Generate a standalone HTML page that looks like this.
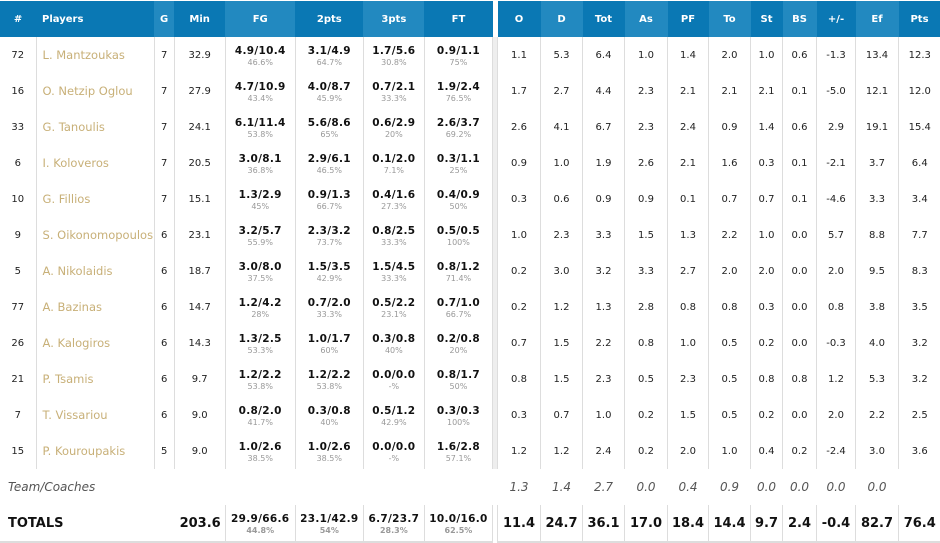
<!DOCTYPE html>
<html><head><meta charset="utf-8"><style>
body{margin:0;width:940px;height:543px;background:#fff;overflow:hidden;font-family:"DejaVu Sans","Liberation Sans",sans-serif;position:relative}
table{border-collapse:collapse;table-layout:fixed;position:absolute;top:1px}
td,th{padding:0;text-align:center;font-size:10px;color:#222;height:36px;border-left:1px solid #ddd;border-right:1px solid #ddd;white-space:nowrap;overflow:hidden}
th{background:#0a78b4;color:#fff;font-weight:bold;font-size:10px;height:36px;border:none}
th.l{background:#2289c0}
td.n{color:#c8b078;font-size:11.5px;text-align:left;padding-left:6px}
th.n{text-align:left;padding-left:6px}
td b{display:block;font-size:10.5px;color:#111;margin-top:1px;letter-spacing:.3px}
td i{display:block;font-style:normal;font-size:8px;color:#999;margin-top:1px}
#L{left:0;width:493px}
#R{left:497px;width:443px}
#L td:first-child{border-left:none}
#R td:last-child{border-right:none}
#gap{position:absolute;left:493px;top:37px;width:4px;height:432px;background:#eee}
tr.tc td{border:none;font-style:italic;font-size:12px;color:#555}
tr.tot td{font-weight:bold;font-size:13px;color:#111;border-bottom:2px solid #ddd}
tr.tot td i{font-weight:bold}
</style></head><body>
<div id="gap"></div>
<table id="L">
<colgroup><col style="width:36px"><col style="width:118px"><col style="width:20px"><col style="width:51px"><col style="width:70px"><col style="width:68px"><col style="width:61px"><col style="width:68px"></colgroup>
<tr><th>#</th><th class="n">Players</th><th class="l">G</th><th>Min</th><th class="l">FG</th><th>2pts</th><th class="l">3pts</th><th>FT</th></tr>
<tr><td>72</td><td class="n">L. Mantzoukas</td><td>7</td><td>32.9</td><td><b>4.9/10.4</b><i>46.6%</i></td><td><b>3.1/4.9</b><i>64.7%</i></td><td><b>1.7/5.6</b><i>30.8%</i></td><td><b>0.9/1.1</b><i>75%</i></td></tr>
<tr><td>16</td><td class="n">O. Netzip Oglou</td><td>7</td><td>27.9</td><td><b>4.7/10.9</b><i>43.4%</i></td><td><b>4.0/8.7</b><i>45.9%</i></td><td><b>0.7/2.1</b><i>33.3%</i></td><td><b>1.9/2.4</b><i>76.5%</i></td></tr>
<tr><td>33</td><td class="n">G. Tanoulis</td><td>7</td><td>24.1</td><td><b>6.1/11.4</b><i>53.8%</i></td><td><b>5.6/8.6</b><i>65%</i></td><td><b>0.6/2.9</b><i>20%</i></td><td><b>2.6/3.7</b><i>69.2%</i></td></tr>
<tr><td>6</td><td class="n">I. Koloveros</td><td>7</td><td>20.5</td><td><b>3.0/8.1</b><i>36.8%</i></td><td><b>2.9/6.1</b><i>46.5%</i></td><td><b>0.1/2.0</b><i>7.1%</i></td><td><b>0.3/1.1</b><i>25%</i></td></tr>
<tr><td>10</td><td class="n">G. Fillios</td><td>7</td><td>15.1</td><td><b>1.3/2.9</b><i>45%</i></td><td><b>0.9/1.3</b><i>66.7%</i></td><td><b>0.4/1.6</b><i>27.3%</i></td><td><b>0.4/0.9</b><i>50%</i></td></tr>
<tr><td>9</td><td class="n">S. Oikonomopoulos</td><td>6</td><td>23.1</td><td><b>3.2/5.7</b><i>55.9%</i></td><td><b>2.3/3.2</b><i>73.7%</i></td><td><b>0.8/2.5</b><i>33.3%</i></td><td><b>0.5/0.5</b><i>100%</i></td></tr>
<tr><td>5</td><td class="n">A. Nikolaidis</td><td>6</td><td>18.7</td><td><b>3.0/8.0</b><i>37.5%</i></td><td><b>1.5/3.5</b><i>42.9%</i></td><td><b>1.5/4.5</b><i>33.3%</i></td><td><b>0.8/1.2</b><i>71.4%</i></td></tr>
<tr><td>77</td><td class="n">A. Bazinas</td><td>6</td><td>14.7</td><td><b>1.2/4.2</b><i>28%</i></td><td><b>0.7/2.0</b><i>33.3%</i></td><td><b>0.5/2.2</b><i>23.1%</i></td><td><b>0.7/1.0</b><i>66.7%</i></td></tr>
<tr><td>26</td><td class="n">A. Kalogiros</td><td>6</td><td>14.3</td><td><b>1.3/2.5</b><i>53.3%</i></td><td><b>1.0/1.7</b><i>60%</i></td><td><b>0.3/0.8</b><i>40%</i></td><td><b>0.2/0.8</b><i>20%</i></td></tr>
<tr><td>21</td><td class="n">P. Tsamis</td><td>6</td><td>9.7</td><td><b>1.2/2.2</b><i>53.8%</i></td><td><b>1.2/2.2</b><i>53.8%</i></td><td><b>0.0/0.0</b><i>-%</i></td><td><b>0.8/1.7</b><i>50%</i></td></tr>
<tr><td>7</td><td class="n">T. Vissariou</td><td>6</td><td>9.0</td><td><b>0.8/2.0</b><i>41.7%</i></td><td><b>0.3/0.8</b><i>40%</i></td><td><b>0.5/1.2</b><i>42.9%</i></td><td><b>0.3/0.3</b><i>100%</i></td></tr>
<tr><td>15</td><td class="n">P. Kouroupakis</td><td>5</td><td>9.0</td><td><b>1.0/2.6</b><i>38.5%</i></td><td><b>1.0/2.6</b><i>38.5%</i></td><td><b>0.0/0.0</b><i>-%</i></td><td><b>1.6/2.8</b><i>57.1%</i></td></tr>
<tr class="tc"><td colspan="4" style="text-align:left;padding-left:8px">Team/Coaches</td><td></td><td></td><td></td><td></td></tr>
<tr class="tot"><td colspan="3" style="text-align:left;padding-left:8px;border-left:none;border-right:none">TOTALS</td><td style="border-left:none;text-align:right;padding-right:4px">203.6</td><td><b>29.9/66.6</b><i>44.8%</i></td><td><b>23.1/42.9</b><i>54%</i></td><td><b>6.7/23.7</b><i>28.3%</i></td><td><b>10.0/16.0</b><i>62.5%</i></td></tr>
</table>
<table id="R">
<colgroup><col style="width:43px"><col style="width:42px"><col style="width:42px"><col style="width:43px"><col style="width:41px"><col style="width:42px"><col style="width:32px"><col style="width:34px"><col style="width:39px"><col style="width:43px"><col style="width:42px"></colgroup>
<tr><th>O</th><th class="l">D</th><th>Tot</th><th class="l">As</th><th>PF</th><th class="l">To</th><th>St</th><th class="l">BS</th><th>+/-</th><th class="l">Ef</th><th>Pts</th></tr>
<tr><td>1.1</td><td>5.3</td><td>6.4</td><td>1.0</td><td>1.4</td><td>2.0</td><td>1.0</td><td>0.6</td><td>-1.3</td><td>13.4</td><td>12.3</td></tr>
<tr><td>1.7</td><td>2.7</td><td>4.4</td><td>2.3</td><td>2.1</td><td>2.1</td><td>2.1</td><td>0.1</td><td>-5.0</td><td>12.1</td><td>12.0</td></tr>
<tr><td>2.6</td><td>4.1</td><td>6.7</td><td>2.3</td><td>2.4</td><td>0.9</td><td>1.4</td><td>0.6</td><td>2.9</td><td>19.1</td><td>15.4</td></tr>
<tr><td>0.9</td><td>1.0</td><td>1.9</td><td>2.6</td><td>2.1</td><td>1.6</td><td>0.3</td><td>0.1</td><td>-2.1</td><td>3.7</td><td>6.4</td></tr>
<tr><td>0.3</td><td>0.6</td><td>0.9</td><td>0.9</td><td>0.1</td><td>0.7</td><td>0.7</td><td>0.1</td><td>-4.6</td><td>3.3</td><td>3.4</td></tr>
<tr><td>1.0</td><td>2.3</td><td>3.3</td><td>1.5</td><td>1.3</td><td>2.2</td><td>1.0</td><td>0.0</td><td>5.7</td><td>8.8</td><td>7.7</td></tr>
<tr><td>0.2</td><td>3.0</td><td>3.2</td><td>3.3</td><td>2.7</td><td>2.0</td><td>2.0</td><td>0.0</td><td>2.0</td><td>9.5</td><td>8.3</td></tr>
<tr><td>0.2</td><td>1.2</td><td>1.3</td><td>2.8</td><td>0.8</td><td>0.8</td><td>0.3</td><td>0.0</td><td>0.8</td><td>3.8</td><td>3.5</td></tr>
<tr><td>0.7</td><td>1.5</td><td>2.2</td><td>0.8</td><td>1.0</td><td>0.5</td><td>0.2</td><td>0.0</td><td>-0.3</td><td>4.0</td><td>3.2</td></tr>
<tr><td>0.8</td><td>1.5</td><td>2.3</td><td>0.5</td><td>2.3</td><td>0.5</td><td>0.8</td><td>0.8</td><td>1.2</td><td>5.3</td><td>3.2</td></tr>
<tr><td>0.3</td><td>0.7</td><td>1.0</td><td>0.2</td><td>1.5</td><td>0.5</td><td>0.2</td><td>0.0</td><td>2.0</td><td>2.2</td><td>2.5</td></tr>
<tr><td>1.2</td><td>1.2</td><td>2.4</td><td>0.2</td><td>2.0</td><td>1.0</td><td>0.4</td><td>0.2</td><td>-2.4</td><td>3.0</td><td>3.6</td></tr>
<tr class="tc"><td>1.3</td><td>1.4</td><td>2.7</td><td>0.0</td><td>0.4</td><td>0.9</td><td>0.0</td><td>0.0</td><td>0.0</td><td>0.0</td><td></td></tr>
<tr class="tot"><td>11.4</td><td>24.7</td><td>36.1</td><td>17.0</td><td>18.4</td><td>14.4</td><td>9.7</td><td>2.4</td><td>-0.4</td><td>82.7</td><td>76.4</td></tr>
</table>
</body></html>
